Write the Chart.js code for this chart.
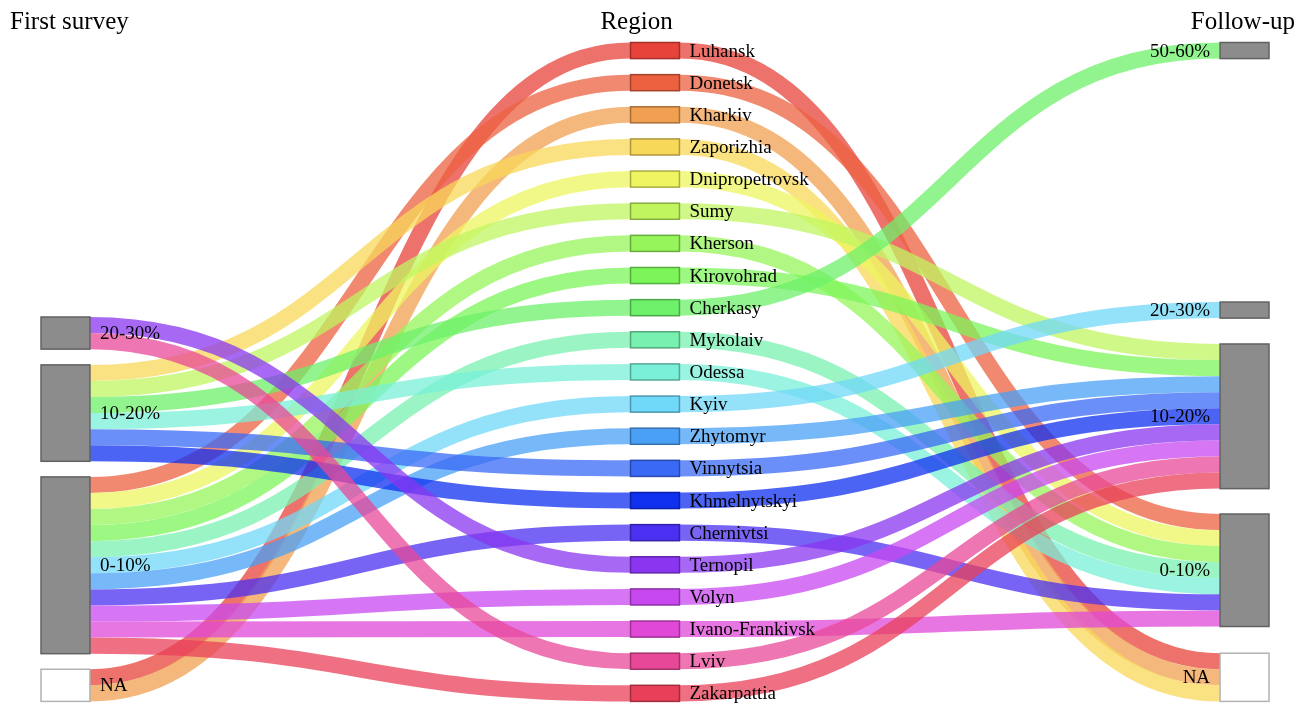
<!DOCTYPE html>
<html>
<head>
<meta charset="utf-8">
<script src="https://cdn.jsdelivr.net/npm/chart.js@4.4.1/dist/chart.umd.min.js"></script>
<style>
  html, body { margin: 0; padding: 0; background: #fff; }
  #wrap { width: 1309px; height: 705px; position: relative; }
</style>
</head>
<body>
<div id="wrap"><canvas id="alluvial"></canvas></div>
<script>
// data
const regions = ['Luhansk', 'Donetsk', 'Kharkiv', 'Zaporizhia', 'Dnipropetrovsk', 'Sumy', 'Kherson',
  'Kirovohrad', 'Cherkasy', 'Mykolaiv', 'Odessa', 'Kyiv', 'Zhytomyr', 'Vinnytsia', 'Khmelnytskyi',
  'Chernivtsi', 'Ternopil', 'Volyn', 'Ivano-Frankivsk', 'Lviv', 'Zakarpattia'];
const firstLevels = ['20-30%', '10-20%', '0-10%', 'NA'];
const followLevels = ['50-60%', '20-30%', '10-20%', '0-10%', 'NA'];
const firstByRegion = ['NA', '0-10%', 'NA', '10-20%', '0-10%', '10-20%', '0-10%', '0-10%', '10-20%',
  '0-10%', '10-20%', '0-10%', '0-10%', '10-20%', '10-20%', '0-10%', '20-30%', '0-10%', '0-10%',
  '20-30%', '0-10%'];
const followByRegion = ['NA', '0-10%', 'NA', 'NA', '0-10%', '10-20%', '0-10%', '10-20%', '50-60%',
  '0-10%', '0-10%', '20-30%', '10-20%', '10-20%', '10-20%', '0-10%', '10-20%', '10-20%', '0-10%',
  '10-20%', '10-20%'];
const columnTitles = ['First survey', 'Region', 'Follow-up'];

// styles + layout (in flow units)
const regionColors = ['#e8433b', '#ec6140', '#f0a050', '#f8d858', '#eef560', '#c0f560', '#95f55a',
  '#7cf55a', '#6ef06a', '#78f0b0', '#7af0d8', '#70d8f8', '#4aa0f5', '#3a6af5', '#1030f0',
  '#4a30f0', '#8a35f0', '#c848f0', '#e048d8', '#e84898', '#e84058'];
const firstTop = [17.08, 20.06, 27.03, 39];
const followTop = [0, 16.15, 18.76, 29.34, 38];
const nodeW = 0.083;
const FONT = '"Liberation Serif", "DejaVu Serif", serif';

function darker(hex) {
  const n = parseInt(hex.slice(1), 16);
  const r = Math.round(((n >> 16) & 255) * 0.7), g = Math.round(((n >> 8) & 255) * 0.7), b = Math.round((n & 255) * 0.7);
  return `rgb(${r},${g},${b})`;
}

// centre of each region's slot inside its survey node
function slots(byRegion, levels, tops) {
  const used = levels.map(() => 0);
  return byRegion.map(lv => {
    const k = levels.indexOf(lv);
    return tops[k] + 0.5 + used[k]++;
  });
}

const alluvialPlugin = {
  id: 'alluvial',
  beforeDatasetsDraw(chart) {
    const ctx = chart.ctx, x = chart.scales.x, y = chart.scales.y;
    const unit = Math.abs(y.getPixelForValue(1) - y.getPixelForValue(0));
    const leftY = slots(firstByRegion, firstLevels, firstTop);
    const rightY = slots(followByRegion, followLevels, followTop);

    function ribbon(x0, y0, x1, y1, color) {
      const xm = (x0 + x1) / 2;
      ctx.beginPath();
      ctx.moveTo(x0, y0);
      ctx.bezierCurveTo(xm, y0, xm, y1, x1, y1);
      ctx.strokeStyle = color;
      ctx.stroke();
    }

    ctx.save();
    ctx.lineWidth = unit;
    ctx.lineCap = 'butt';
    ctx.globalAlpha = 0.75;
    regions.forEach((r, i) => {
      const ym = y.getPixelForValue(i * 2 + 0.5);
      ribbon(x.getPixelForValue(nodeW), y.getPixelForValue(leftY[i]), x.getPixelForValue(1), ym, regionColors[i]);
      ribbon(x.getPixelForValue(1 + nodeW), ym, x.getPixelForValue(2), y.getPixelForValue(rightY[i]), regionColors[i]);
    });
    ctx.restore();

    function box(col, top, h, fill) {
      const px = x.getPixelForValue(col), pw = x.getPixelForValue(col + nodeW) - px;
      const py = y.getPixelForValue(top), ph = y.getPixelForValue(top + h) - py;
      ctx.fillStyle = fill;
      ctx.fillRect(px, py, pw, ph);
      ctx.strokeStyle = darker(fill);
      ctx.lineWidth = 1.5;
      ctx.strokeRect(px, py, pw, ph);
    }

    ctx.save();
    ctx.font = '19px ' + FONT;
    ctx.fillStyle = '#000';
    ctx.textBaseline = 'middle';
    // first survey nodes
    firstLevels.forEach((lv, k) => {
      const n = firstByRegion.filter(v => v === lv).length;
      box(0, firstTop[k], n, lv === 'NA' ? '#ffffff' : '#8c8c8c');
      ctx.fillStyle = '#000';
      ctx.textAlign = 'left';
      ctx.fillText(lv, x.getPixelForValue(nodeW) + 10, y.getPixelForValue(firstTop[k] + n / 2) + 1);
    });
    // follow-up nodes
    followLevels.forEach((lv, k) => {
      const n = followByRegion.filter(v => v === lv).length;
      box(2, followTop[k], n, lv === 'NA' ? '#ffffff' : '#8c8c8c');
      ctx.fillStyle = '#000';
      ctx.textAlign = 'right';
      ctx.fillText(lv, x.getPixelForValue(2) - 10, y.getPixelForValue(followTop[k] + n / 2) + 1);
    });
    // region nodes
    regions.forEach((r, i) => {
      box(1, i * 2, 1, regionColors[i]);
      ctx.fillStyle = '#000';
      ctx.textAlign = 'left';
      ctx.fillText(r, x.getPixelForValue(1 + nodeW) + 10, y.getPixelForValue(i * 2 + 0.5) + 1);
    });

    // column titles
    ctx.font = '25px ' + FONT;
    ctx.textBaseline = 'alphabetic';
    ctx.textAlign = 'left';
    ctx.fillText(columnTitles[0], 10, 29);
    ctx.textAlign = 'center';
    ctx.fillText(columnTitles[1], x.getPixelForValue(1) + 6, 29);
    ctx.textAlign = 'right';
    ctx.fillText(columnTitles[2], chart.width - 14, 29);
    ctx.restore();
  }
};

new Chart(document.getElementById('alluvial'), {
  type: 'scatter',
  data: { datasets: [{ data: [], showLine: false }] },
  options: {
    responsive: true,
    maintainAspectRatio: false,
    animation: false,
    layout: { padding: { left: 41, right: 40, top: 42.5, bottom: 3.6 } },
    plugins: { legend: { display: false }, tooltip: { enabled: false } },
    scales: {
      x: { type: 'linear', min: 0, max: 2 + nodeW, display: false },
      y: { type: 'linear', min: 0, max: regions.length * 2 - 1, reverse: true, display: false }
    }
  },
  plugins: [alluvialPlugin]
});
</script>
</body>
</html>
